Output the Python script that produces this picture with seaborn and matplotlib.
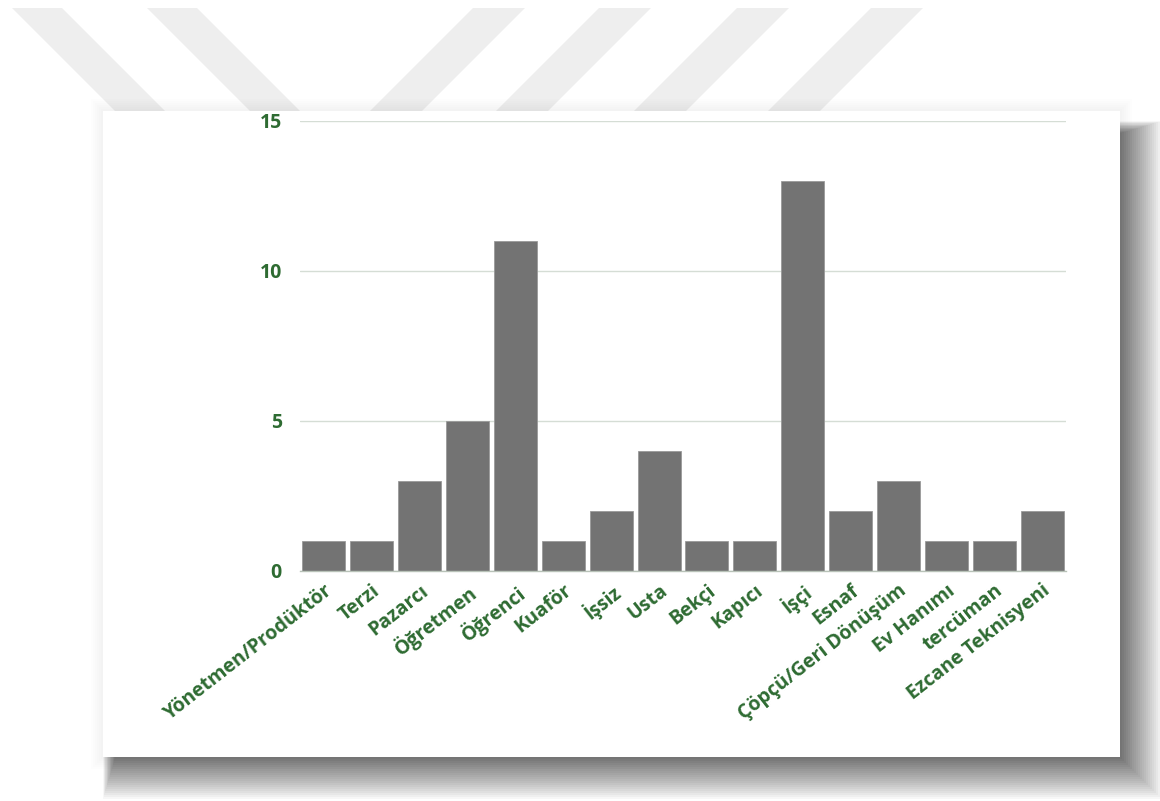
import matplotlib
matplotlib.use("Agg")
import matplotlib.pyplot as plt
from matplotlib.patches import Polygon
import seaborn as sns
import pandas as pd

# data
jobs = [
    "Yönetmen/Prodüktör", "Terzi", "Pazarcı", "Öğretmen", "Öğrenci", "Kuaför",
    "İşsiz", "Usta", "Bekçi", "Kapıcı", "İşçi", "Esnaf",
    "Çöpçü/Geri Dönüşüm", "Ev Hanımı", "tercüman", "Ezcane Teknisyeni",
]
counts = [1, 1, 3, 5, 11, 1, 2, 4, 1, 1, 13, 2, 3, 1, 1, 2]
y_ticks = [0, 5, 10, 15]

W, H = 1160, 801
BAR = "#737373"
GREEN = "#2e6b32"

sns.set_theme(style="white")
plt.rcParams["font.family"] = ["Open Sans", "DejaVu Sans"]

fig = plt.figure(figsize=(W / 100, H / 100), dpi=100)
fig.patch.set_facecolor("white")


def fx(x):
    return x / W


def fy(y):
    return 1 - y / H


def poly(pts, **kw):
    fig.patches.append(Polygon([(fx(x), fy(y)) for x, y in pts],
                               transform=fig.transFigure, **kw))


def box(x0, y0, x1, y1, **kw):
    poly([(x0, y0), (x1, y0), (x1, y1), (x0, y1)], edgecolor="none", **kw)


# faint watermark stripes behind the card
for x0 in [12, 147]:
    poly([(x0, 8), (x0 + 50, 8), (x0 + 153, 111), (x0 + 103, 111)],
         facecolor="#eeeeee", edgecolor="none", zorder=0)
for x0 in [473, 599, 737, 871]:
    poly([(x0, 8), (x0 + 52, 8), (x0 - 51, 111), (x0 - 103, 111)],
         facecolor="#eeeeee", edgecolor="none", zorder=0)

# card shadow (soft, offset to the lower right)
cx0, cy0, cx1, cy1 = 103, 111, 1120, 757
for k in range(6):
    e = 2 + 2 * k
    box(cx0 - e, cy0 - e, cx1 + e, cy1 + e, facecolor="black", alpha=0.008, zorder=1)
for k in range(21):
    e = 2 * k
    box(cx0 + 12 - 0.3 * e, cy0 + 22 - 0.3 * e, cx1 + 2 + e, cy1 + 2 + e,
        facecolor="black", alpha=0.03, zorder=1)
box(cx0, cy0, cx1, cy1, facecolor="white", zorder=2)

ax = fig.add_axes([fx(300), fy(571), (1066 - 300) / W, (571 - 121) / H])
ax.set_zorder(3)
ax.patch.set_alpha(0)

df = pd.DataFrame({"job": jobs, "count": counts})
sns.barplot(data=df, x="job", y="count", color=BAR, saturation=1, width=0.9,
            edgecolor="#9a9a9a", linewidth=0.6, ax=ax)

ax.set_ylim(0, 15)
ax.set_xlim(-0.5, len(jobs) - 0.5)
ax.set_yticks(y_ticks)
ax.yaxis.grid(True, color="#d5ddd5", linewidth=1)
ax.set_axisbelow(True)
for s in ["top", "right", "left"]:
    ax.spines[s].set_visible(False)
ax.spines["bottom"].set_color("#b8c2b8")
ax.spines["bottom"].set_linewidth(1)
ax.set_xlabel("")
ax.set_ylabel("")

ax.tick_params(axis="y", length=0, pad=13, labelsize=14, labelcolor=GREEN)
ax.tick_params(axis="x", length=0, pad=7, labelsize=14, labelcolor=GREEN)
for t in ax.get_yticklabels():
    t.set_fontweight("bold")
for t in ax.get_xticklabels():
    t.set_fontweight("bold")
    t.set_rotation(38)
    t.set_ha("right")
    t.set_rotation_mode("anchor")

fig.savefig("out.png", dpi=100, facecolor="white")
